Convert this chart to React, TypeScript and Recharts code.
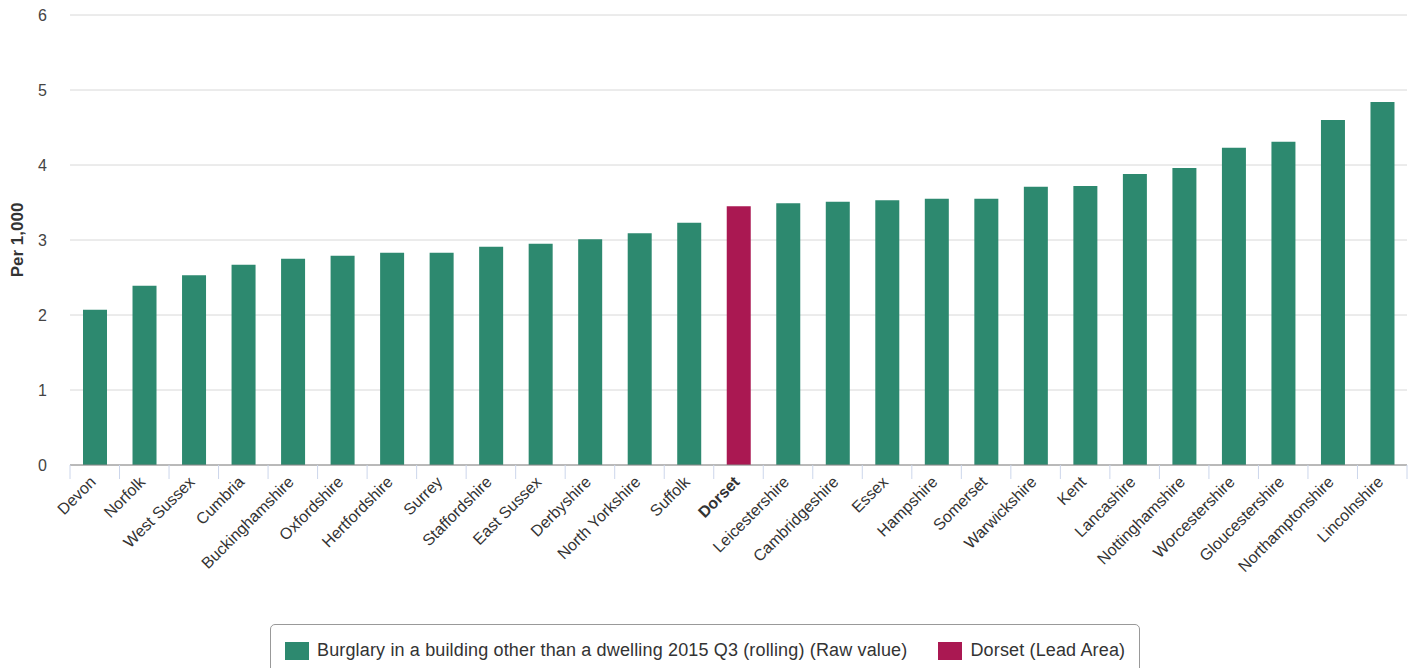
import React from "react";
import { BarChart, Bar, XAxis, YAxis, CartesianGrid, Cell } from "recharts";

const areas = [
  "Devon", "Norfolk", "West Sussex", "Cumbria", "Buckinghamshire", "Oxfordshire",
  "Hertfordshire", "Surrey", "Staffordshire", "East Sussex", "Derbyshire",
  "North Yorkshire", "Suffolk", "Dorset", "Leicestershire", "Cambridgeshire",
  "Essex", "Hampshire", "Somerset", "Warwickshire", "Kent", "Lancashire",
  "Nottinghamshire", "Worcestershire", "Gloucestershire", "Northamptonshire",
  "Lincolnshire",
];

const rates = [
  2.07, 2.39, 2.53, 2.67, 2.75, 2.79, 2.83, 2.83, 2.91, 2.95, 3.01, 3.09, 3.23,
  3.45, 3.49, 3.51, 3.53, 3.55, 3.55, 3.71, 3.72, 3.88, 3.96, 4.23, 4.31, 4.6,
  4.84,
];

const yTicks = [0, 1, 2, 3, 4, 5, 6];
const leadArea = "Dorset";
const seriesName = "Burglary in a building other than a dwelling 2015 Q3 (rolling) (Raw value)";
const leadName = "Dorset (Lead Area)";

const GREEN = "#2d896f";
const LEAD = "#aa1852";
const FONT = "'Liberation Sans', Arial, sans-serif";

const data = areas.map((name, i) => ({ name, value: rates[i] }));

const CHART_W = 1413;
const CHART_H = 668;
const LEFT = 70;
const RIGHT = 6;
const BAND = (CHART_W - LEFT - RIGHT) / areas.length;

const AreaTick = (props: any) => {
  const { x, y, payload, index } = props;
  const isLead = payload.value === leadArea;
  const axisY = y - 8;
  const tx = x + 2;
  const ty = axisY + 18;
  return (
    <g>
      <line x1={x - BAND / 2} x2={x - BAND / 2} y1={axisY} y2={axisY + 14} stroke="#ccd6eb" />
      {index === areas.length - 1 && (
        <line x1={x + BAND / 2} x2={x + BAND / 2} y1={axisY} y2={axisY + 14} stroke="#ccd6eb" />
      )}
      <text
        x={tx}
        y={ty}
        transform={`rotate(-45 ${tx} ${ty})`}
        textAnchor="end"
        fontSize={16}
        fontFamily={FONT}
        fontWeight={isLead ? "bold" : "normal"}
        fill="#333"
      >
        {payload.value}
      </text>
    </g>
  );
};

const ValueTick = (props: any) => {
  const { y, payload } = props;
  return (
    <text
      x={47}
      y={y}
      textAnchor="end"
      dominantBaseline="central"
      fontSize={16}
      fontFamily={FONT}
      fill="#444"
    >
      {payload.value}
    </text>
  );
};

const YLabel = (props: any) => {
  const { viewBox } = props;
  const cx = viewBox.x - 3;
  const cy = viewBox.y + viewBox.height / 2;
  return (
    <text
      x={cx}
      y={cy}
      transform={`rotate(-90 ${cx} ${cy})`}
      textAnchor="middle"
      dominantBaseline="central"
      fontSize={17}
      fontWeight="bold"
      fontFamily={FONT}
      fill="#333"
    >
      Per 1,000
    </text>
  );
};

export default function App() {
  return (
    <div style={{ position: "absolute", left: 0, top: 0, width: CHART_W, height: CHART_H, fontFamily: FONT }}>
      <BarChart
        width={CHART_W}
        height={CHART_H}
        data={data}
        margin={{ top: 15, right: RIGHT, bottom: 0, left: 20 }}
      >
        <CartesianGrid vertical={false} stroke="#d8d8d8" />
        <XAxis
          dataKey="name"
          interval={0}
          height={203}
          tickLine={false}
          axisLine={{ stroke: "#888" }}
          tick={<AreaTick />}
        />
        <YAxis
          width={50}
          domain={[0, 6]}
          ticks={yTicks}
          axisLine={false}
          tickLine={false}
          tick={<ValueTick />}
          label={<YLabel />}
        />
        <Bar dataKey="value" barSize={24} isAnimationActive={false}>
          {data.map((d) => (
            <Cell key={d.name} fill={d.name === leadArea ? LEAD : GREEN} />
          ))}
        </Bar>
      </BarChart>
      <div
        style={{
          position: "absolute",
          left: 270,
          top: 624,
          width: 870,
          height: 60,
          border: "1px solid #999",
          borderRadius: 5,
          boxSizing: "border-box",
          display: "flex",
          alignItems: "flex-start",
          paddingTop: 15,
          paddingLeft: 14,
          fontSize: 18,
          letterSpacing: 0.15,
          color: "#333",
          fontFamily: FONT,
          whiteSpace: "nowrap",
        }}
      >
        <span style={{ display: "inline-flex", alignItems: "center", marginRight: 31 }}>
          <span style={{ width: 24, height: 18, background: GREEN, display: "inline-block", marginRight: 8 }} />
          {seriesName}
        </span>
        <span style={{ display: "inline-flex", alignItems: "center" }}>
          <span style={{ width: 24, height: 18, background: LEAD, display: "inline-block", marginRight: 8 }} />
          {leadName}
        </span>
      </div>
    </div>
  );
}
